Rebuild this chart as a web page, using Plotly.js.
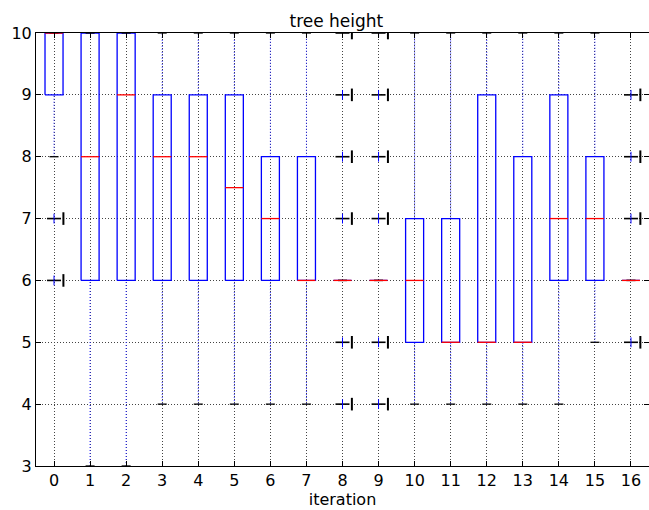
<!DOCTYPE html>
<html>
<head>
<meta charset="utf-8">
<script src="https://cdn.plot.ly/plotly-3.0.1.min.js"></script>
<style>html,body{margin:0;padding:0;background:#fff;}</style>
</head>
<body>
<div id="chart" style="width:649px;height:510px;"></div>
<script>
const iterations = [0,1,2,3,4,5,6,7,8,9,10,11,12,13,14,15,16];
const q1 =          [9,6,6,6,6,6,6,6,6,6,5,5,5,5,6,6,6];
const median =      [10,8,9,8,8,7.5,7,6,6,6,6,5,5,5,7,7,6];
const q3 =          [10,10,10,9,9,9,8,8,6,6,7,7,9,8,9,8,6];
const whiskerLow =  [8,3,3,4,4,4,4,4,6,6,4,4,4,4,4,5,6];
const whiskerHigh = [10,10,10,10,10,10,10,10,6,6,10,10,10,10,10,10,6];
const fliers = [[6,7],[],[],[],[],[],[],[],[4,5,7,8,9,10],[4,5,7,8,9,10],[],[],[],[],[],[],[5,7,8,9]];
const tickLabels = iterations.map(String);

const BW = 0.25, CW = 0.125;
const boxX = [], boxY = [], medX = [], medY = [], whX = [], whY = [], capX = [], capY = [];
const flX = [], flY = [], flBarX = [];
iterations.forEach((x, i) => {
  boxX.push(x-BW, x+BW, x+BW, x-BW, x-BW, null);
  boxY.push(q1[i], q1[i], q3[i], q3[i], q1[i], null);
  medX.push(x-BW, x+BW, null); medY.push(median[i], median[i], null);
  whX.push(x, x, null, x, x, null);
  whY.push(whiskerLow[i], q1[i], null, q3[i], whiskerHigh[i], null);
  capX.push(x-CW, x+CW, null, x-CW, x+CW, null);
  capY.push(whiskerLow[i], whiskerLow[i], null, whiskerHigh[i], whiskerHigh[i], null);
  fliers[i].forEach(v => { flX.push(x); flY.push(v); flBarX.push(x + 0.26); });
});

const traces = [
  {x: whX, y: whY, mode: 'lines', line: {color: '#2020ff', width: 1, dash: '1px,2px'}, hoverinfo: 'skip'},
  {x: boxX, y: boxY, mode: 'lines', line: {color: '#0000ff', width: 1.3}, hoverinfo: 'skip'},
  {x: capX, y: capY, mode: 'lines', line: {color: '#000000', width: 1.3}, hoverinfo: 'skip'},
  {x: medX, y: medY, mode: 'lines', line: {color: '#ff0000', width: 1.3}, hoverinfo: 'skip'},
  {x: flX, y: flY, mode: 'markers', marker: {symbol: 'line-ew', size: 10, line: {color: '#000', width: 1.6}}, hoverinfo: 'skip'},
  {x: flX, y: flY, mode: 'markers', marker: {symbol: 'line-ns', size: 7, line: {color: '#0000ff', width: 1}}, hoverinfo: 'skip'},
  {x: flBarX, y: flY, mode: 'markers', marker: {symbol: 'line-ns', size: 9, line: {color: '#000', width: 2}}, hoverinfo: 'skip'}
];

const layout = {
  width: 649, height: 510,
  margin: {l: 36, r: 0, t: 33, b: 44},
  paper_bgcolor: '#fff', plot_bgcolor: '#fff',
  showlegend: false,
  font: {family: 'DejaVu Sans', size: 16, color: '#000'},
  title: {text: 'tree height', xref: 'paper', x: 0.49, xanchor: 'center', yref: 'container', y: 0.948, yanchor: 'bottom', font: {size: 17, color: '#000'}},
  xaxis: {
    range: [-0.5, 16.5], tickmode: 'array', tickvals: iterations, ticktext: tickLabels,
    showline: true, linecolor: '#000', linewidth: 1, mirror: 'ticks',
    ticks: 'inside', ticklen: 5, tickcolor: '#000',
    showgrid: true, gridcolor: '#444', gridwidth: 1, griddash: '1px,2px',
    zeroline: false,
    title: {text: 'iteration', font: {size: 16}, standoff: 3}
  },
  yaxis: {
    range: [3, 10], dtick: 1, tick0: 3,
    showline: true, linecolor: '#000', linewidth: 1, mirror: 'ticks',
    ticks: 'inside', ticklen: 5, tickcolor: '#000',
    showgrid: true, gridcolor: '#444', gridwidth: 1, griddash: '1px,2px',
    zeroline: false
  }
};

Plotly.newPlot('chart', traces, layout, {staticPlot: true});
</script>
</body>
</html>
